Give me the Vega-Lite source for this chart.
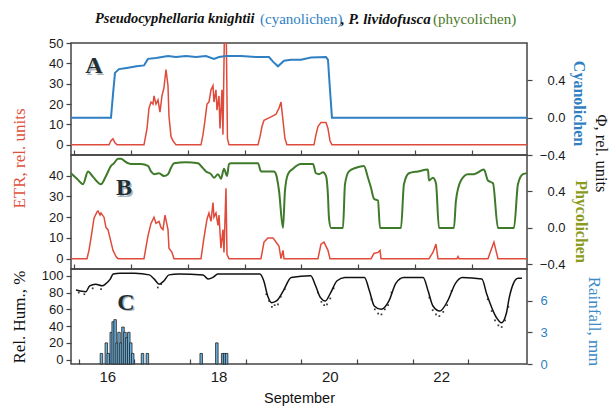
{
  "$schema": "https://vega.github.io/schema/vega-lite/v6.json",
  "background": "white",
  "padding": {"left": 9, "top": 10, "right": 2, "bottom": 2},
  "spacing": 0,
  "bounds": "flush",
  "datasets": {
    "etrA": [{"t":15.95,"v":0},{"t":16.618,"v":0},{"t":16.653,"v":2},{"t":16.688,"v":3},{"t":16.723,"v":1},{"t":16.758,"v":0},{"t":17.233,"v":0},{"t":17.286,"v":8},{"t":17.321,"v":18},{"t":17.356,"v":21},{"t":17.391,"v":20},{"t":17.409,"v":24},{"t":17.444,"v":20},{"t":17.479,"v":22},{"t":17.514,"v":16},{"t":17.549,"v":24},{"t":17.584,"v":28},{"t":17.62,"v":37},{"t":17.655,"v":29},{"t":17.672,"v":14},{"t":17.708,"v":4},{"t":17.743,"v":2},{"t":17.795,"v":0},{"t":18.235,"v":0},{"t":18.27,"v":5},{"t":18.305,"v":12},{"t":18.34,"v":20},{"t":18.375,"v":21},{"t":18.411,"v":27},{"t":18.446,"v":29},{"t":18.463,"v":21},{"t":18.498,"v":27},{"t":18.516,"v":17},{"t":18.551,"v":24},{"t":18.569,"v":8},{"t":18.604,"v":27},{"t":18.621,"v":5},{"t":18.645,"v":52},{"t":18.68,"v":52},{"t":18.7,"v":3},{"t":18.727,"v":0},{"t":19.237,"v":0},{"t":19.272,"v":4},{"t":19.307,"v":9},{"t":19.342,"v":12},{"t":19.412,"v":13},{"t":19.483,"v":14},{"t":19.553,"v":15},{"t":19.606,"v":18},{"t":19.641,"v":21},{"t":19.676,"v":12},{"t":19.711,"v":3},{"t":19.746,"v":0},{"t":20.221,"v":0},{"t":20.256,"v":5},{"t":20.291,"v":9},{"t":20.344,"v":11},{"t":20.432,"v":11},{"t":20.467,"v":8},{"t":20.502,"v":2},{"t":20.537,"v":0},{"t":23.964,"v":0}],
    "cyano": [{"t":15.95,"v":0},{"t":16.653,"v":0},{"t":16.688,"v":0.25},{"t":16.723,"v":0.48},{"t":16.794,"v":0.52},{"t":16.9,"v":0.53},{"t":17.005,"v":0.54},{"t":17.1,"v":0.55},{"t":17.233,"v":0.56},{"t":17.303,"v":0.63},{"t":17.444,"v":0.64},{"t":17.55,"v":0.65},{"t":17.655,"v":0.66},{"t":17.795,"v":0.65},{"t":17.971,"v":0.66},{"t":18.147,"v":0.65},{"t":18.323,"v":0.66},{"t":18.463,"v":0.63},{"t":18.551,"v":0.65},{"t":18.674,"v":0.66},{"t":18.938,"v":0.66},{"t":19.201,"v":0.65},{"t":19.43,"v":0.65},{"t":19.5,"v":0.6},{"t":19.588,"v":0.55},{"t":19.694,"v":0.61},{"t":19.817,"v":0.62},{"t":19.992,"v":0.62},{"t":20.168,"v":0.645},{"t":20.432,"v":0.65},{"t":20.467,"v":0.62},{"t":20.502,"v":0.3},{"t":20.537,"v":0},{"t":23.964,"v":0}],
    "etrB": [{"t":15.95,"v":0},{"t":16.231,"v":0},{"t":16.266,"v":4},{"t":16.302,"v":10},{"t":16.354,"v":19.5},{"t":16.407,"v":22.5},{"t":16.425,"v":23},{"t":16.46,"v":21},{"t":16.477,"v":22},{"t":16.53,"v":20},{"t":16.565,"v":15},{"t":16.6,"v":14},{"t":16.653,"v":8},{"t":16.688,"v":4},{"t":16.741,"v":1},{"t":16.776,"v":0},{"t":17.233,"v":0},{"t":17.303,"v":11},{"t":17.356,"v":17},{"t":17.409,"v":20},{"t":17.444,"v":17},{"t":17.497,"v":18},{"t":17.532,"v":15},{"t":17.567,"v":14},{"t":17.602,"v":21},{"t":17.655,"v":14},{"t":17.672,"v":5},{"t":17.725,"v":3},{"t":17.76,"v":0},{"t":18.235,"v":0},{"t":18.287,"v":10},{"t":18.34,"v":19},{"t":18.375,"v":22},{"t":18.411,"v":18},{"t":18.446,"v":27},{"t":18.463,"v":20},{"t":18.498,"v":22},{"t":18.534,"v":16},{"t":18.551,"v":21},{"t":18.586,"v":5},{"t":18.621,"v":14},{"t":18.639,"v":3},{"t":18.674,"v":34},{"t":18.692,"v":2},{"t":18.727,"v":0},{"t":19.289,"v":0},{"t":19.342,"v":8},{"t":19.412,"v":10},{"t":19.5,"v":10},{"t":19.553,"v":8},{"t":19.606,"v":6},{"t":19.641,"v":0},{"t":19.676,"v":4},{"t":19.694,"v":0},{"t":20.291,"v":0},{"t":20.344,"v":7},{"t":20.397,"v":8},{"t":20.467,"v":4},{"t":20.502,"v":0},{"t":21.223,"v":0},{"t":21.275,"v":2.5},{"t":21.346,"v":3},{"t":21.381,"v":4},{"t":21.399,"v":0},{"t":22.242,"v":0},{"t":22.312,"v":3},{"t":22.365,"v":7},{"t":22.4,"v":0},{"t":22.734,"v":0},{"t":22.752,"v":1},{"t":22.769,"v":0},{"t":23.279,"v":0},{"t":23.332,"v":4},{"t":23.384,"v":8},{"t":23.419,"v":4},{"t":23.455,"v":0},{"t":23.964,"v":0}],
    "phyco": [{"t":15.95,"v":0.6},{"t":16.055,"v":0.54},{"t":16.161,"v":0.48},{"t":16.249,"v":0.62},{"t":16.337,"v":0.56},{"t":16.477,"v":0.48},{"t":16.565,"v":0.57},{"t":16.653,"v":0.68},{"t":16.706,"v":0.71},{"t":16.776,"v":0.76},{"t":16.829,"v":0.76},{"t":16.899,"v":0.73},{"t":16.952,"v":0.71},{"t":17.005,"v":0.7},{"t":17.18,"v":0.7},{"t":17.303,"v":0.68},{"t":17.356,"v":0.62},{"t":17.409,"v":0.59},{"t":17.497,"v":0.6},{"t":17.584,"v":0.57},{"t":17.655,"v":0.59},{"t":17.708,"v":0.66},{"t":17.76,"v":0.71},{"t":17.971,"v":0.72},{"t":18.182,"v":0.71},{"t":18.235,"v":0.68},{"t":18.323,"v":0.62},{"t":18.411,"v":0.59},{"t":18.463,"v":0.55},{"t":18.534,"v":0.59},{"t":18.586,"v":0.54},{"t":18.639,"v":0.65},{"t":18.692,"v":0.57},{"t":18.727,"v":0.7},{"t":18.762,"v":0.71},{"t":19.237,"v":0.71},{"t":19.289,"v":0.62},{"t":19.518,"v":0.62},{"t":19.553,"v":0.59},{"t":19.606,"v":0.41},{"t":19.676,"v":0},{"t":19.711,"v":0.41},{"t":19.764,"v":0.59},{"t":19.852,"v":0.65},{"t":19.992,"v":0.7},{"t":20.203,"v":0.7},{"t":20.256,"v":0.6},{"t":20.309,"v":0.59},{"t":20.379,"v":0.61},{"t":20.432,"v":0.57},{"t":20.467,"v":0.35},{"t":20.484,"v":0.11},{"t":20.52,"v":0},{"t":20.73,"v":0},{"t":20.766,"v":0.48},{"t":20.836,"v":0.62},{"t":20.959,"v":0.66},{"t":21.099,"v":0.68},{"t":21.17,"v":0.55},{"t":21.223,"v":0.44},{"t":21.275,"v":0.32},{"t":21.346,"v":0.3},{"t":21.381,"v":0},{"t":21.75,"v":0},{"t":21.802,"v":0.48},{"t":21.89,"v":0.6},{"t":22.049,"v":0.62},{"t":22.224,"v":0.64},{"t":22.242,"v":0.52},{"t":22.312,"v":0.55},{"t":22.365,"v":0.49},{"t":22.418,"v":0},{"t":22.681,"v":0},{"t":22.716,"v":0.3},{"t":22.804,"v":0.52},{"t":22.927,"v":0.59},{"t":23.033,"v":0.59},{"t":23.208,"v":0.64},{"t":23.279,"v":0.52},{"t":23.367,"v":0.49},{"t":23.455,"v":0},{"t":23.736,"v":0},{"t":23.806,"v":0.48},{"t":23.894,"v":0.59},{"t":23.964,"v":0.6}],
    "rh": [{"t":15.95,"v":83},{"t":16.126,"v":81},{"t":16.196,"v":88},{"t":16.302,"v":90},{"t":16.425,"v":88},{"t":16.477,"v":90},{"t":16.565,"v":96},{"t":16.618,"v":102},{"t":16.741,"v":103},{"t":17.005,"v":103},{"t":17.268,"v":101},{"t":17.356,"v":96},{"t":17.444,"v":90},{"t":17.532,"v":94},{"t":17.62,"v":101},{"t":17.795,"v":102},{"t":18.235,"v":101},{"t":18.323,"v":96},{"t":18.411,"v":98},{"t":18.498,"v":102},{"t":19.254,"v":102},{"t":19.324,"v":94},{"t":19.395,"v":76},{"t":19.465,"v":68},{"t":19.553,"v":70},{"t":19.676,"v":82},{"t":19.817,"v":98},{"t":20.168,"v":100},{"t":20.256,"v":88},{"t":20.344,"v":74},{"t":20.432,"v":70},{"t":20.52,"v":79},{"t":20.642,"v":94},{"t":20.783,"v":98},{"t":21.134,"v":98},{"t":21.223,"v":82},{"t":21.31,"v":64},{"t":21.433,"v":60},{"t":21.574,"v":70},{"t":21.697,"v":91},{"t":21.838,"v":98},{"t":22.189,"v":98},{"t":22.277,"v":82},{"t":22.365,"v":64},{"t":22.488,"v":58},{"t":22.629,"v":70},{"t":22.769,"v":91},{"t":22.892,"v":98},{"t":23.244,"v":96},{"t":23.332,"v":78},{"t":23.507,"v":50},{"t":23.595,"v":44},{"t":23.683,"v":55},{"t":23.736,"v":74},{"t":23.806,"v":90},{"t":23.894,"v":97},{"t":23.964,"v":97}],
    "rhraw": [{"t":16.0,"v":80},{"t":16.1,"v":78},{"t":16.25,"v":85},{"t":16.4,"v":84},{"t":17.42,"v":86},{"t":17.48,"v":90},{"t":19.37,"v":78},{"t":19.42,"v":70},{"t":19.47,"v":63},{"t":19.52,"v":65},{"t":19.58,"v":66},{"t":19.63,"v":75},{"t":19.7,"v":84},{"t":20.3,"v":80},{"t":20.36,"v":69},{"t":20.41,"v":65},{"t":20.46,"v":66},{"t":20.52,"v":73},{"t":20.58,"v":85},{"t":21.26,"v":72},{"t":21.32,"v":60},{"t":21.38,"v":55},{"t":21.44,"v":54},{"t":21.5,"v":60},{"t":21.56,"v":65},{"t":21.62,"v":80},{"t":22.3,"v":74},{"t":22.36,"v":59},{"t":22.42,"v":54},{"t":22.48,"v":52},{"t":22.55,"v":57},{"t":22.62,"v":65},{"t":22.7,"v":82},{"t":23.35,"v":72},{"t":23.42,"v":58},{"t":23.48,"v":47},{"t":23.54,"v":41},{"t":23.6,"v":39},{"t":23.66,"v":47},{"t":23.72,"v":63}],
    "rain": [{"t":16.407,"v":1.0},{"t":16.495,"v":2.0},{"t":16.53,"v":1.0},{"t":16.583,"v":3.0},{"t":16.618,"v":4.0},{"t":16.653,"v":4.2},{"t":16.688,"v":2.0},{"t":16.723,"v":3.0},{"t":16.758,"v":2.0},{"t":16.794,"v":3.5},{"t":16.829,"v":3.0},{"t":16.864,"v":2.5},{"t":16.899,"v":3.0},{"t":16.934,"v":2.0},{"t":16.969,"v":1.0},{"t":17.145,"v":1.0},{"t":17.233,"v":1.0},{"t":18.2,"v":1.0},{"t":18.481,"v":2.0},{"t":18.586,"v":1.0},{"t":18.621,"v":1.0},{"t":18.657,"v":1.0}]
  },
  "vconcat": [
    {
      "width": 456, "height": 112,
      "layer": [
        {
          "data": {"name": "etrA"},
          "mark": {"type": "line", "color": "#e04a3a", "strokeWidth": 1.5, "clip": true},
          "encoding": {
            "x": {"field": "t", "type": "quantitative", "scale": {"domain": [15.95, 23.965], "nice": false, "zero": false},
                  "axis": {"orient": "bottom", "values": [16,17,18,19,20,21,22,23], "labels": false, "title": null, "tickSize": -5}},
            "y": {"field": "v", "type": "quantitative", "scale": {"domain": [-5, 50], "nice": false, "zero": false},
                  "axis": {"values": [0,10,20,30,40,50], "labelOverlap": false, "title": "ETR, rel. units", "titleColor": "#e0503c", "titleX": -52, "titleY": 115, "titleBaseline": "middle", "titleAngle": -90}}
          }
        },
        {
          "data": {"name": "cyano"},
          "mark": {"type": "line", "color": "#2f7fc3", "strokeWidth": 2},
          "encoding": {
            "x": {"field": "t", "type": "quantitative"},
            "y": {"field": "v", "type": "quantitative", "scale": {"domain": [-0.4, 0.8], "nice": false, "zero": false},
                  "axis": {"orient": "right", "values": [-0.4, 0, 0.4], "format": ".1f", "labelOverlap": false, "labelAlign": "right", "labelPadding": 33, "title": "Cyanolichen", "titleColor": "#2f7fc3", "titleFontWeight": "bold", "titleFontSize": 16, "titleX": 51, "titleY": 60, "titleBaseline": "middle", "titleAngle": 90}}
          }
        },
        {
          "data": {"values": [{}]},
          "encoding": {
            "x": {"type": "quantitative"},
            "y": {"type": "quantitative", "scale": {"domain": [-5, 50], "nice": false, "zero": false},
                  "axis": {"orient": "left", "labels": false, "ticks": false, "domain": false, "title": null}}
          },
          "layer": [
            {
              "mark": {"type": "text", "text": "Pseudocyphellaria knightii", "align": "left", "baseline": "middle", "font": "Liberation Serif", "fontSize": 14.4, "fontStyle": "italic", "fontWeight": "bold", "color": "#111"},
              "encoding": {"x": {"datum": 16.372}, "y": {"datum": 61.8}}
            },
            {
              "mark": {"type": "text", "text": "(cyanolichen)", "align": "left", "baseline": "middle", "font": "Liberation Serif", "fontSize": 15, "color": "#2f7fc3"},
              "encoding": {"x": {"datum": 19.272}, "y": {"datum": 61.8}}
            },
            {
              "mark": {"type": "text", "text": ", P. lividofusca", "align": "left", "baseline": "middle", "font": "Liberation Serif", "fontSize": 15, "fontStyle": "italic", "fontWeight": "bold", "color": "#111"},
              "encoding": {"x": {"datum": 20.695}, "y": {"datum": 61.8}}
            },
            {
              "mark": {"type": "text", "text": "(phycolichen)", "align": "left", "baseline": "middle", "font": "Liberation Serif", "fontSize": 15, "color": "#4a7a25"},
              "encoding": {"x": {"datum": 22.312}, "y": {"datum": 61.8}}
            },
            {
              "mark": {"type": "text", "text": "A", "align": "center", "baseline": "middle", "font": "Liberation Serif", "fontSize": 24, "fontWeight": "bold", "color": "#a9b4b8", "dx": 1.5, "dy": 1.5},
              "encoding": {"x": {"datum": 16.354}, "y": {"datum": 38.7}}
            },
            {
              "mark": {"type": "text", "text": "A", "align": "center", "baseline": "middle", "font": "Liberation Serif", "fontSize": 24, "fontWeight": "bold", "color": "#1f2f35"},
              "encoding": {"x": {"datum": 16.354}, "y": {"datum": 38.7}}
            }
          ]
        }
      ],
      "resolve": {"scale": {"y": "independent"}}
    },
    {
      "width": 456, "height": 114,
      "layer": [
        {
          "data": {"name": "etrB"},
          "mark": {"type": "line", "color": "#e04a3a", "strokeWidth": 1.5, "clip": true},
          "encoding": {
            "x": {"field": "t", "type": "quantitative", "scale": {"domain": [15.95, 23.965], "nice": false, "zero": false},
                  "axis": {"orient": "bottom", "values": [16,17,18,19,20,21,22,23], "labels": false, "title": null, "tickSize": -5}},
            "y": {"field": "v", "type": "quantitative", "scale": {"domain": [-5, 50], "nice": false, "zero": false},
                  "axis": {"values": [0,10,20,30,40], "labelOverlap": false, "title": null}}
          }
        },
        {
          "data": {"name": "phyco"},
          "mark": {"type": "line", "color": "#3f7a2a", "strokeWidth": 2, "interpolate": "monotone"},
          "encoding": {
            "x": {"field": "t", "type": "quantitative"},
            "y": {"field": "v", "type": "quantitative", "scale": {"domain": [-0.45, 0.8], "nice": false, "zero": false},
                  "axis": {"orient": "right", "values": [-0.4, 0, 0.4], "format": ".1f", "labelOverlap": false, "labelAlign": "right", "labelPadding": 33, "title": "Phycolichen", "titleColor": "#8a9a1c", "titleFontWeight": "bold", "titleFontSize": 16, "titleX": 53, "titleY": 66, "titleBaseline": "middle", "titleAngle": 90}}
          }
        },
        {
          "data": {"values": [{}]},
          "mark": {"type": "rule", "opacity": 0},
          "encoding": {
            "y": {"datum": 0.5, "type": "quantitative", "scale": {"domain": [0, 1]},
                  "axis": {"orient": "right", "domain": false, "ticks": false, "labels": false, "title": "Φ, rel. units", "titleFontSize": 16.5, "titleColor": "#111", "titleX": 73, "titleY": -2, "titleBaseline": "middle", "titleAngle": 90}}
          }
        },
        {
          "data": {"values": [{}]},
          "encoding": {
            "x": {"type": "quantitative"},
            "y": {"type": "quantitative", "scale": {"domain": [-5, 50], "nice": false, "zero": false},
                  "axis": {"orient": "left", "labels": false, "ticks": false, "domain": false, "title": null}}
          },
          "layer": [
            {
              "mark": {"type": "text", "text": "B", "align": "center", "baseline": "middle", "font": "Liberation Serif", "fontSize": 24, "fontWeight": "bold", "color": "#a9b4b8", "dx": 1.5, "dy": 1.5},
              "encoding": {"x": {"datum": 16.881}, "y": {"datum": 34}}
            },
            {
              "mark": {"type": "text", "text": "B", "align": "center", "baseline": "middle", "font": "Liberation Serif", "fontSize": 24, "fontWeight": "bold", "color": "#1f2f35"},
              "encoding": {"x": {"datum": 16.881}, "y": {"datum": 34}}
            }
          ]
        }
      ],
      "resolve": {"scale": {"y": "independent"}}
    },
    {
      "width": 456, "height": 95,
      "layer": [
        {
          "data": {"name": "rh"},
          "mark": {"type": "line", "color": "#111", "strokeWidth": 1.5, "interpolate": "monotone"},
          "encoding": {
            "x": {"field": "t", "type": "quantitative", "scale": {"domain": [15.95, 23.965], "nice": false, "zero": false},
                  "axis": {"orient": "bottom", "values": [16,17,18,19,20,21,22,23], "labelExpr": "datum.value % 2 == 0 ? datum.value : ''", "labelOverlap": false, "labelOffset": 28.5, "labelFontSize": 15, "labelPadding": 10, "tickSize": -5, "title": "September", "titleFont": "Liberation Sans", "titleFontSize": 14.5, "titlePadding": 7}},
            "y": {"field": "v", "type": "quantitative", "scale": {"domain": [-5, 108], "nice": false, "zero": false},
                  "axis": {"values": [0,20,40,60,80,100], "labelOverlap": false, "title": "Rel. Hum., %", "titleX": -52, "titleBaseline": "middle", "titleAngle": -90}}
          }
        },
        {
          "data": {"name": "rain"},
          "mark": {"type": "bar", "size": 2.5, "fill": "#6cb0dc", "stroke": "#222", "strokeWidth": 0.8},
          "encoding": {
            "x": {"field": "t", "type": "quantitative"},
            "y": {"field": "v", "type": "quantitative", "scale": {"domain": [0, 9], "nice": false, "zero": false},
                  "axis": {"orient": "right", "values": [0, 3, 6], "labelOverlap": false, "labelColor": "#2f7fc3", "labelAlign": "left", "labelPadding": 8, "title": "Rainfall, mm", "titleColor": "#3a8ac8", "titleFontSize": 17, "titleX": 66, "titleY": 52, "titleBaseline": "middle", "titleAngle": 90}}
          }
        },
        {
          "layer": [
            {
              "data": {"name": "rhraw"},
              "mark": {"type": "point", "shape": "square", "size": 3, "filled": true, "color": "#222", "opacity": 0.9},
              "encoding": {
                "x": {"field": "t", "type": "quantitative"},
                "y": {"field": "v", "type": "quantitative", "scale": {"domain": [-5, 108], "nice": false, "zero": false},
                      "axis": {"orient": "left", "labels": false, "ticks": false, "domain": false, "title": null}}
              }
            },
            {
              "data": {"values": [{}]},
              "mark": {"type": "text", "text": "C", "align": "center", "baseline": "middle", "font": "Liberation Serif", "fontSize": 24, "fontWeight": "bold", "color": "#a9b4b8", "dx": 1.5, "dy": 1.5},
              "encoding": {"x": {"datum": 16.846, "type": "quantitative"}, "y": {"datum": 67.6, "type": "quantitative"}}
            },
            {
              "data": {"values": [{}]},
              "mark": {"type": "text", "text": "C", "align": "center", "baseline": "middle", "font": "Liberation Serif", "fontSize": 24, "fontWeight": "bold", "color": "#1f2f35"},
              "encoding": {"x": {"datum": 16.846, "type": "quantitative"}, "y": {"datum": 67.6, "type": "quantitative"}}
            }
          ]
        }
      ],
      "resolve": {"scale": {"y": "independent"}}
    }
  ],
  "config": {
    "view": {"stroke": "#444", "strokeWidth": 1.5},
    "axis": {"labelFont": "Liberation Sans", "labelFontSize": 13, "labelColor": "#1a1a1a", "labelOverlap": false, "tickColor": "#444", "tickWidth": 1.2, "tickSize": 5, "labelPadding": 3, "domain": false, "grid": false, "titleFont": "Liberation Serif", "titleFontWeight": "normal", "titleFontSize": 17, "titleColor": "#111"}
  }
}
